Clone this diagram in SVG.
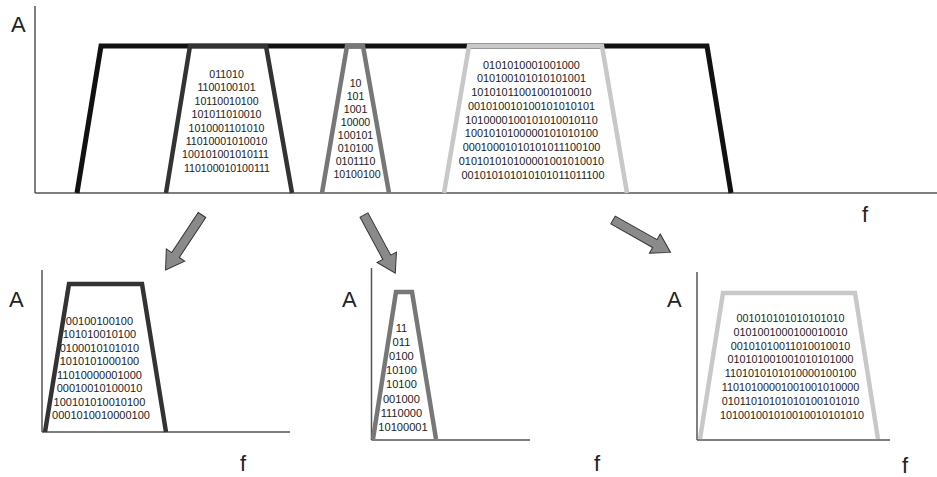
<svg xmlns="http://www.w3.org/2000/svg" width="937" height="477" viewBox="0 0 937 477">
  <style>
    .axis { stroke: #555; stroke-width: 1.5; fill: none; }
    .lbl { font-family: "Liberation Sans", Arial, sans-serif; font-size: 22px; fill: #222; }
    .bits { font-family: "Liberation Sans", Arial, sans-serif; font-size: 10.6px; fill: #222; text-anchor: middle; }
    .band { fill: none; stroke-width: 4.5; stroke-linejoin: miter; }
    .k { stroke: #111; stroke-width: 5; }
    .d { stroke: #333; }
    .m { stroke: #777; }
    .l { stroke: #c8c8c8; }
    .arrow { fill: #8a8a8a; stroke: #333; stroke-width: 1; }
  </style>
  <defs>
    <path id="arr" d="M0,-4.5 L48,-4.5 L48,-11 L66,0 L48,11 L48,4.5 L0,4.5 Z"/>
  </defs>
  <rect width="937" height="477" fill="#fff"/>

  <!-- top spectrum -->
  <g id="top-axes">
    <line class="axis" x1="35" y1="6" x2="35" y2="193"/>
    <line class="axis" x1="35" y1="193" x2="937" y2="193"/>
    <text class="lbl" x="11" y="32">A</text>
    <text class="lbl" x="862" y="222">f</text>
  </g>
  <g id="channel">
    <path class="band k" d="M77,193 L101,46 L707,46 L731,193"/>
  </g>
  <g id="band-1">
    <path class="band d" d="M166,193 L190,46 L266,46 L292,193"/>
    <text class="bits">
      <tspan x="228" y="78">011010</tspan>
      <tspan x="228" y="91.4">1100100101</tspan>
      <tspan x="228" y="104.8">10110010100</tspan>
      <tspan x="228" y="118.2">101011010010</tspan>
      <tspan x="228" y="131.6">1010001101010</tspan>
      <tspan x="228" y="145">11010001010010</tspan>
      <tspan x="227" y="158.4">100101001010111</tspan>
      <tspan x="227" y="171.8">110100010100111</tspan>
    </text>
  </g>
  <g id="band-2">
    <path class="band m" d="M322,193 L347,46 L363,46 L389,193"/>
    <text class="bits">
      <tspan x="357" y="87">10</tspan>
      <tspan x="357" y="100">101</tspan>
      <tspan x="357" y="113">1001</tspan>
      <tspan x="357" y="126">10000</tspan>
      <tspan x="357" y="139">100101</tspan>
      <tspan x="357" y="152">010100</tspan>
      <tspan x="357" y="165">0101110</tspan>
      <tspan x="357" y="178">10100100</tspan>
    </text>
  </g>
  <g id="band-3">
    <path class="band l" d="M444,193 L469,46 L602,46 L627,193"/>
    <text class="bits" style="font-size:10.9px">
      <tspan x="533" y="68.5">0101010001001000</tspan>
      <tspan x="533" y="82.2">010100101010101001</tspan>
      <tspan x="533" y="96">10101011001001010010</tspan>
      <tspan x="533" y="109.7">001010010100101010101</tspan>
      <tspan x="533" y="123.5">1010000100101010010110</tspan>
      <tspan x="533" y="137.2">1001010100000101010100</tspan>
      <tspan x="533" y="151">00010001010101011100100</tspan>
      <tspan x="533" y="164.7">010101010100001001010010</tspan>
      <tspan x="533" y="178.5">001010101010101011011100</tspan>
    </text>
  </g>

  <!-- arrows -->
  <g id="connectors">
    <use href="#arr" class="arrow" transform="translate(202,215) rotate(123.5)"/>
    <use href="#arr" class="arrow" transform="translate(364,215) rotate(61.7)"/>
    <use href="#arr" class="arrow" transform="translate(613,220) rotate(29.4)"/>
  </g>

  <!-- lower spectrum 1 -->
  <g id="sub-1">
    <line class="axis" x1="42" y1="270" x2="42" y2="432"/>
    <line class="axis" x1="42" y1="432" x2="290" y2="432"/>
    <text class="lbl" x="9" y="307">A</text>
    <text class="lbl" x="240" y="471">f</text>
    <path class="band d" d="M45,432 L69,284 L142,284 L166,432"/>
    <text class="bits" style="font-size:11px">
      <tspan x="101" y="324.5">00100100100</tspan>
      <tspan x="101" y="338">101010010100</tspan>
      <tspan x="101" y="351.5">0100010101010</tspan>
      <tspan x="101" y="365">1010101000100</tspan>
      <tspan x="101" y="378.5">11010000001000</tspan>
      <tspan x="101" y="392">00010010100010</tspan>
      <tspan x="101" y="405.5">100101010010100</tspan>
      <tspan x="101" y="419">0001010010000100</tspan>
    </text>
  </g>

  <!-- lower spectrum 2 -->
  <g id="sub-2">
    <line class="axis" x1="371.5" y1="268" x2="371.5" y2="440"/>
    <line class="axis" x1="371.5" y1="440" x2="530" y2="440"/>
    <text class="lbl" x="342" y="307">A</text>
    <text class="lbl" x="594" y="471">f</text>
    <path class="band m" d="M373,439 L396,292 L412,292 L436,439"/>
    <text class="bits" style="font-size:11.1px">
      <tspan x="403" y="332">11</tspan>
      <tspan x="403" y="346.1">011</tspan>
      <tspan x="403" y="360.2">0100</tspan>
      <tspan x="403" y="374.3">10100</tspan>
      <tspan x="403" y="388.4">10100</tspan>
      <tspan x="403" y="402.5">001000</tspan>
      <tspan x="403" y="416.6">1110000</tspan>
      <tspan x="403" y="430.7">10100001</tspan>
    </text>
  </g>

  <!-- lower spectrum 3 -->
  <g id="sub-3">
    <line class="axis" x1="697" y1="272" x2="697" y2="440"/>
    <line class="axis" x1="697" y1="440" x2="890" y2="440"/>
    <text class="lbl" x="667" y="307">A</text>
    <text class="lbl" x="902" y="473">f</text>
    <path class="band l" d="M700,439 L723,293 L855,293 L878,439"/>
    <text class="bits" style="font-size:10.8px">
      <tspan x="792" y="322">001010101010101010</tspan>
      <tspan x="792" y="335.8">0101001000100010010</tspan>
      <tspan x="792" y="349.6">00101010011010010010</tspan>
      <tspan x="792" y="363.4">010101001001010101000</tspan>
      <tspan x="792" y="377.2">1101010101010000100100</tspan>
      <tspan x="792" y="391">11010100001001001010000</tspan>
      <tspan x="792" y="404.8">01011010101010100101010</tspan>
      <tspan x="792" y="418.6">101001001010010010101010</tspan>
    </text>
  </g>
</svg>
